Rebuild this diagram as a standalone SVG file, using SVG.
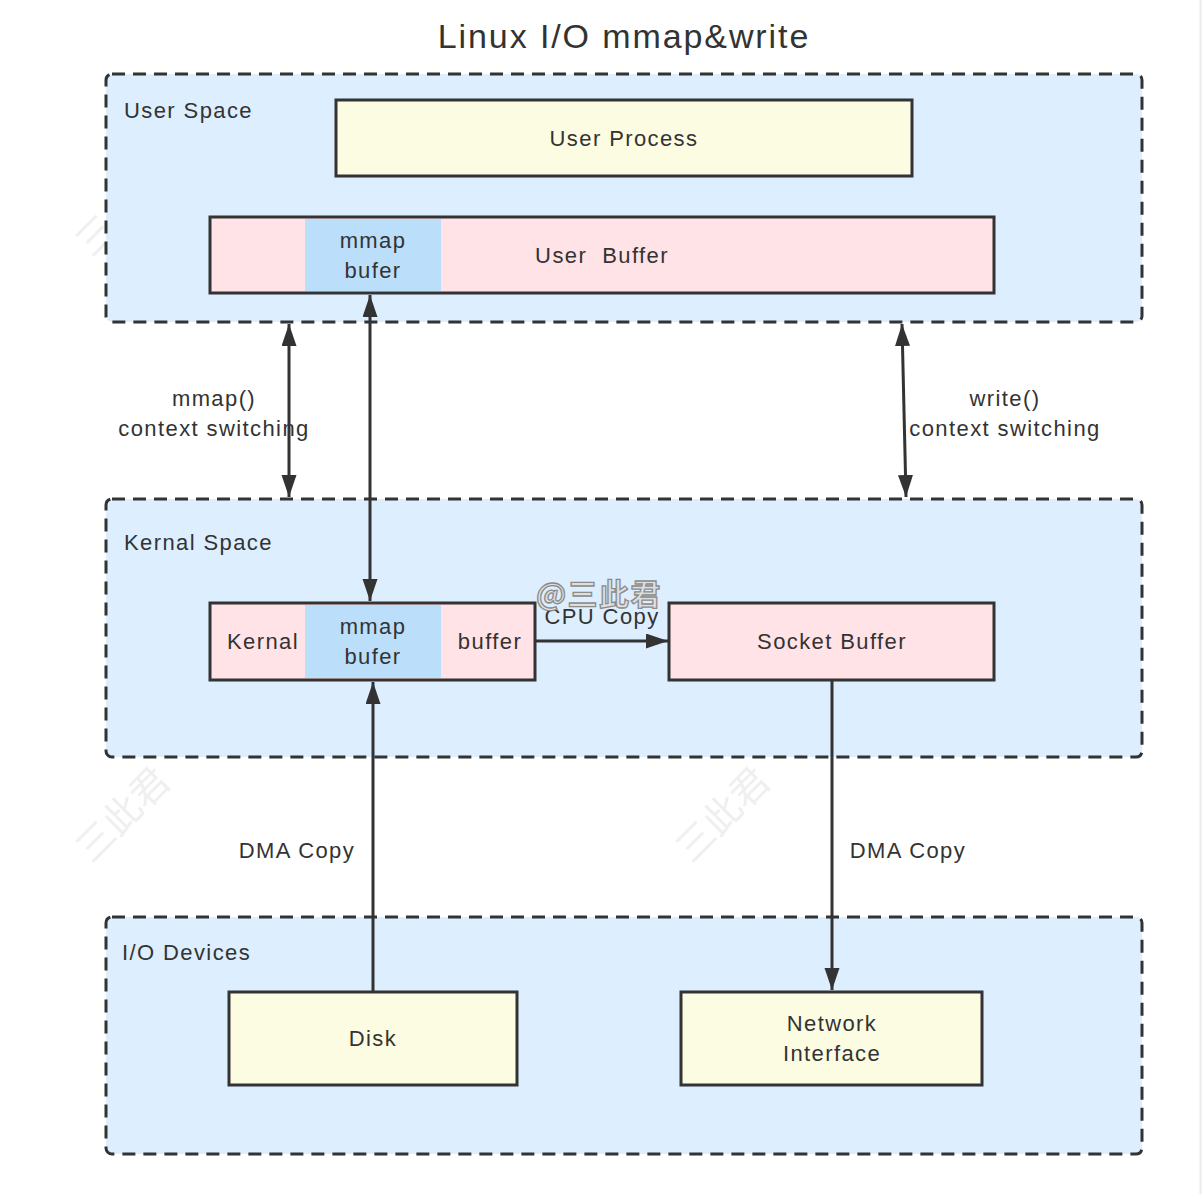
<svg xmlns="http://www.w3.org/2000/svg" width="1202" height="1194" viewBox="0 0 1202 1194">
<style>
text{font-family:"Liberation Sans",Arial,sans-serif;fill:#333;font-size:22px;letter-spacing:1.4px}
.c{text-anchor:middle}
.area{fill:#ddeeff;stroke:#333;stroke-width:3;stroke-dasharray:13 8}
.box{stroke:#333;stroke-width:3}
.pink{fill:#ffe3e6}
.yel{fill:#fcfce3}
.blue{fill:#bbdefa}
.conn{stroke:#333;stroke-width:3;fill:none}
.wm{font-family:"Noto Sans CJK SC",sans-serif;fill:#000;opacity:0.06;font-size:38px;letter-spacing:0}
</style>
<defs>
<marker id="ah" markerUnits="userSpaceOnUse" markerWidth="24" markerHeight="16" refX="22" refY="7.5" orient="auto-start-reverse">
<path d="M0,0 L22,7.5 L0,15 z" fill="#333"/>
</marker>
</defs>
<rect width="1202" height="1194" fill="#fff"/>
<line x1="1200.5" y1="0" x2="1200.5" y2="1194" stroke="#ececec" stroke-width="2"/>
<g id="watermarks">
<text class="wm" transform="translate(132,218) rotate(-45)" text-anchor="middle">三此君</text>
<text class="wm" transform="translate(132,824) rotate(-45)" text-anchor="middle">三此君</text>
<text class="wm" transform="translate(732,824) rotate(-45)" text-anchor="middle">三此君</text>
</g>
<text class="c" x="624" y="48" style="font-size:34px;letter-spacing:1.9px">Linux I/O mmap&amp;write</text>
<g id="user-space">
<rect class="area" x="106" y="74" width="1036" height="248" rx="6"/>
<text x="124" y="118">User Space</text>
</g>
<g id="kernal-space">
<rect class="area" x="106" y="499" width="1036" height="258" rx="6"/>
<text x="124" y="550">Kernal Space</text>
</g>
<g id="io-devices">
<rect class="area" x="106" y="917" width="1036" height="237" rx="6"/>
<text x="122" y="960">I/O Devices</text>
</g>
<g id="user-process">
<rect class="box yel" x="336" y="100" width="576" height="76"/>
<text class="c" x="624" y="146">User Process</text>
</g>
<g id="user-buffer">
<rect class="box pink" x="210" y="217" width="784" height="76"/>
<rect class="blue" x="305" y="219" width="136" height="72"/>
<text class="c" x="373" y="248">mmap</text>
<text class="c" x="373" y="278">bufer</text>
<text class="c" x="602" y="263" xml:space="preserve">User  Buffer</text>
</g>
<g id="kernal-buffer">
<rect class="box pink" x="210" y="603" width="325" height="77"/>
<rect class="blue" x="305" y="605" width="136" height="73"/>
<text class="c" x="263" y="649">Kernal</text>
<text class="c" x="373" y="634">mmap</text>
<text class="c" x="373" y="664">bufer</text>
<text class="c" x="490" y="649">buffer</text>
</g>
<g id="socket-buffer">
<rect class="box pink" x="669" y="603" width="325" height="77"/>
<text class="c" x="832" y="649">Socket Buffer</text>
</g>
<g id="disk">
<rect class="box yel" x="229" y="992" width="288" height="93"/>
<text class="c" x="373" y="1046">Disk</text>
</g>
<g id="network-interface">
<rect class="box yel" x="681" y="992" width="301" height="93"/>
<text class="c" x="832" y="1031">Network</text>
<text class="c" x="832" y="1061">Interface</text>
</g>
<g id="connectors">
<line class="conn" x1="289" y1="324" x2="289" y2="497" marker-start="url(#ah)" marker-end="url(#ah)"/>
<line class="conn" x1="370" y1="295" x2="370" y2="601" marker-start="url(#ah)" marker-end="url(#ah)"/>
<line class="conn" x1="902" y1="324" x2="906" y2="497" marker-start="url(#ah)" marker-end="url(#ah)"/>
<line class="conn" x1="536" y1="641" x2="668" y2="641" marker-end="url(#ah)"/>
<line class="conn" x1="373" y1="991" x2="373" y2="682" marker-end="url(#ah)"/>
<line class="conn" x1="832" y1="681" x2="832" y2="990" marker-end="url(#ah)"/>
</g>
<g id="labels">
<text class="c" x="214" y="406">mmap()</text>
<text class="c" x="214" y="436">context switching</text>
<text class="c" x="1005" y="406">write()</text>
<text class="c" x="1005" y="436">context switching</text>
<text class="c" x="602" y="624">CPU Copy</text>
<text class="c" x="297" y="858">DMA Copy</text>
<text class="c" x="908" y="858">DMA Copy</text>
</g>
<text x="599" y="605" text-anchor="middle" style="font-family:'Noto Sans CJK SC',sans-serif;font-size:30px;font-weight:bold;fill:#dedede;stroke:#8c8c8c;stroke-width:1.3px;letter-spacing:1.5px">@三此君</text>
</svg>
